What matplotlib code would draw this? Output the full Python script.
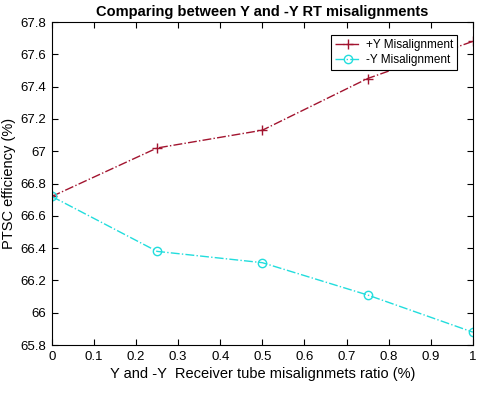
import numpy as np
import matplotlib.pyplot as plt

plt.rcParams['font.family'] = ['Liberation Sans', 'DejaVu Sans']

ratio = [0, 0.25, 0.5, 0.75, 1.0]
pos_y = [66.72, 67.02, 67.13, 67.45, 67.68]
neg_y = [66.72, 66.38, 66.31, 66.11, 65.88]

fig = plt.figure(figsize=(4.8, 3.93), dpi=100)
ax = fig.add_axes([0.108, 0.122, 0.877, 0.822])

ax.plot(ratio, pos_y, color='#A2142F', linestyle='-.', marker='+', markersize=7,
        lw=1, label='+Y Misalignment')
ax.plot(ratio, neg_y, color='#22DDDD', linestyle='-.', marker='o', markersize=6,
        markerfacecolor='none', lw=1, label='-Y Misalignment')

ax.set_xlim(0, 1)
ax.set_ylim(65.8, 67.8)
ax.set_xticks(np.arange(0, 1.01, 0.1))
ax.set_xticklabels(['0', '0.1', '0.2', '0.3', '0.4', '0.5', '0.6', '0.7', '0.8', '0.9', '1'])
ax.set_yticks(np.arange(65.8, 67.81, 0.2))
ax.set_yticklabels(['65.8', '66', '66.2', '66.4', '66.6', '66.8', '67', '67.2', '67.4', '67.6', '67.8'])
ax.tick_params(direction='in', top=True, right=True, labelsize=9.5, length=4, pad=4)

ax.set_xlabel('Y and -Y  Receiver tube misalignmets ratio (%)', fontsize=10.5, labelpad=3)
ax.set_ylabel('PTSC efficiency (%)', fontsize=10.5, labelpad=3)
ax.set_title('Comparing between Y and -Y RT misalignments', fontsize=10.5, fontweight='bold', pad=4)

leg = ax.legend(loc='upper right', bbox_to_anchor=(0.963, 0.96), borderaxespad=0,
                fontsize=8.5, fancybox=False, edgecolor='black', framealpha=1,
                handlelength=2.1, handletextpad=0.5, borderpad=0.35, labelspacing=0.25)
leg.get_frame().set_linewidth(0.8)

fig.savefig('out.png', dpi=100)
